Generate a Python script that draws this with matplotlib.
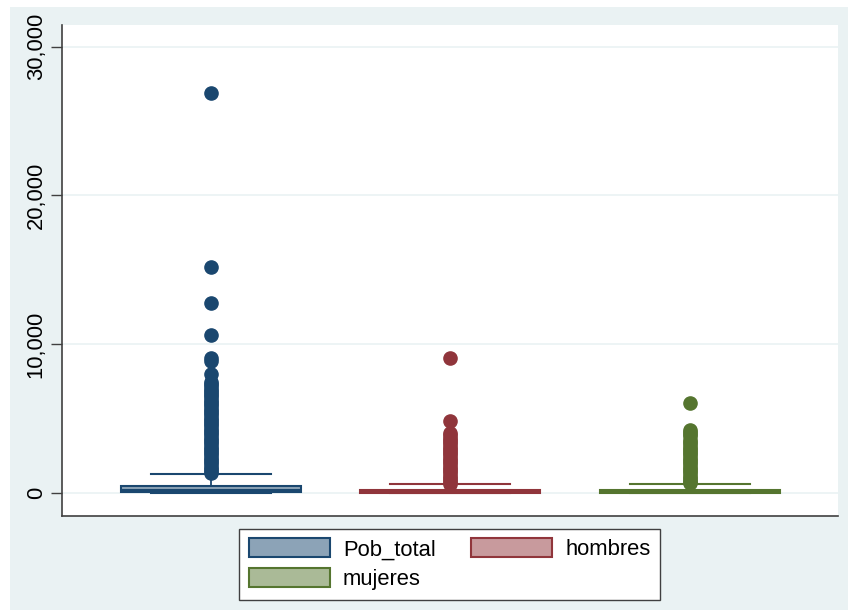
import matplotlib.pyplot as plt
from matplotlib.patches import Patch, Rectangle
from matplotlib.ticker import FuncFormatter

plt.rcParams['font.family'] = ['Liberation Sans', 'DejaVu Sans']

# box summary values
labels = ["Pob_total", "hombres", "mujeres"]
q1 = [40, 10, 10]
med = [150, 60, 60]
q3 = [420, 150, 150]
whislo = [0, 0, 0]
whishi = [1250, 565, 580]

# outside values
fliers_total = [26900, 15150, 12780, 10590, 9080, 8850, 7950, 7450, 7300, 7150,
                7000, 6850, 6700, 6550, 6400, 6250, 6100, 5950, 5800, 5650,
                5500, 5350, 5200, 5050, 4900, 4750, 4600, 4450, 4300, 4150,
                4000, 3850, 3700, 3550, 3400, 3250, 3100, 2950, 2800, 2650,
                2500, 2350, 2200, 2050, 1900, 1750, 1600, 1450, 1300]
fliers_hombres = [9080, 4840, 3990, 3850, 3700, 3550, 3400, 3250, 3100, 2950,
                  2800, 2650, 2500, 2350, 2200, 2050, 1900, 1750, 1600, 1450,
                  1300, 1150, 1000, 850, 700, 600]
fliers_mujeres = [6050, 4220, 4080, 3950, 3800, 3540, 3400, 3250, 3100, 2950,
                  2800, 2650, 2500, 2350, 2200, 2050, 1900, 1750, 1600, 1450,
                  1300, 1150, 1000, 850, 700, 620]
fliers = [fliers_total, fliers_hombres, fliers_mujeres]

yticks = [0, 10000, 20000, 30000]

dark = ["#1a476f", "#90353b", "#55752f"]
light = ["#8ca3b7", "#c89a9d", "#aaba97"]
bg = "#eaf2f3"

fig = plt.figure(figsize=(8.48, 6.10), dpi=100)
fig.patch.set_facecolor("white")
fig.patches.append(Rectangle((10 / 848, 0), 838 / 848, 603 / 610,
                             transform=fig.transFigure, facecolor=bg,
                             edgecolor="none", zorder=-10))

ax = fig.add_axes([62 / 848, 94 / 610, 776 / 848, 491 / 610])
ax.set_facecolor("white")

for i in range(3):
    stats = [dict(med=med[i], q1=q1[i], q3=q3[i], whislo=whislo[i],
                  whishi=whishi[i], fliers=fliers[i], label=labels[i])]
    ax.bxp(stats, positions=[i + 1], widths=0.75, patch_artist=True,
           capwidths=0.5,
           boxprops=dict(facecolor=light[i], edgecolor=dark[i], linewidth=1.5),
           medianprops=dict(color=dark[i], linewidth=1.5),
           whiskerprops=dict(color=dark[i], linewidth=1.3),
           capprops=dict(color=dark[i], linewidth=1.5),
           flierprops=dict(marker="o", markersize=9.5, markerfacecolor=dark[i],
                           markeredgecolor=dark[i], linestyle="none"),
           zorder=3)

ax.set_xlim(0.381, 3.615)
ax.set_ylim(-1570, 31450)
ax.set_xticks([])
ax.set_yticks(yticks)
ax.yaxis.set_major_formatter(FuncFormatter(lambda v, p: f"{int(v):,}"))
ax.tick_params(axis="y", length=8, width=1, color="#404040", pad=3,
               labelsize=15.8, labelrotation=90)
for lab in ax.get_yticklabels():
    lab.set_verticalalignment("center")
ax.grid(axis="y", color=bg, linewidth=1.2, zorder=0)
ax.set_axisbelow(True)
for s in ["top", "right"]:
    ax.spines[s].set_visible(False)
for s in ["left", "bottom"]:
    ax.spines[s].set_color("#404040")
    ax.spines[s].set_linewidth(1.2)

# legend is filled column by column, so order gives rows: Pob_total hombres / mujeres
order = [0, 2, 1]
handles = [Patch(facecolor=light[i], edgecolor=dark[i], linewidth=1.5,
                 label=labels[i]) for i in order]
leg = fig.legend(handles=handles, ncol=2, loc="lower center",
                 bbox_to_anchor=(449.5 / 848, 10 / 610), borderaxespad=0,
                 fontsize=15.8, handlelength=3.7, handleheight=0.95,
                 handletextpad=0.6, columnspacing=1.6, labelspacing=0.35,
                 borderpad=0.45, fancybox=False, framealpha=1,
                 edgecolor="#404040")
leg.get_frame().set_linewidth(1.0)

fig.savefig("out.png", dpi=100)
